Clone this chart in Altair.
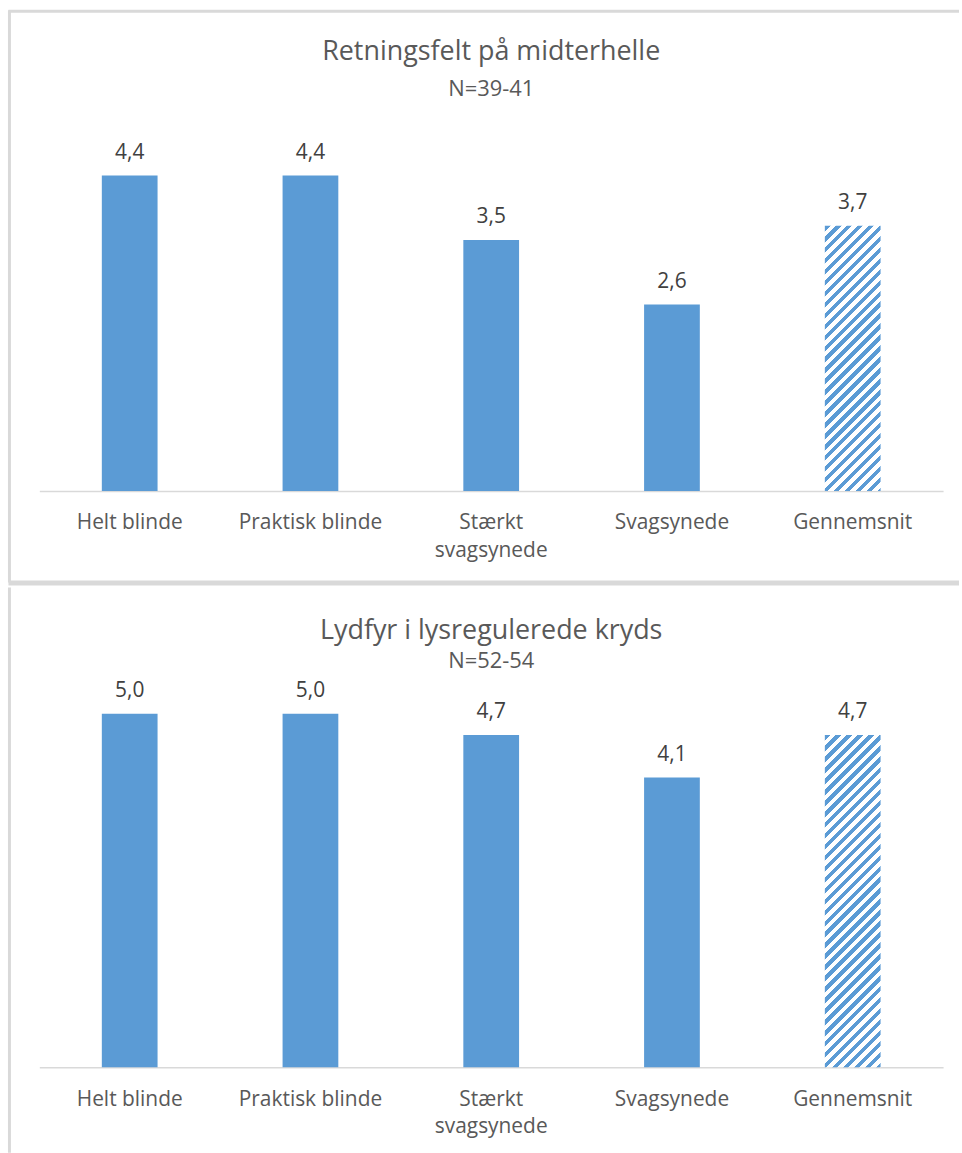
import altair as alt
import pandas as pd

# --- data -------------------------------------------------------------------
categories = ["Helt blinde", "Praktisk blinde", "Stærkt svagsynede", "Svagsynede", "Gennemsnit"]
retning_values = [4.4, 4.4, 3.5, 2.6, 3.7]
lydfyr_values = [5.0, 5.0, 4.7, 4.1, 4.7]
titles = ["Retningsfelt på midterhelle", "Lydfyr i lysregulerede kryds"]
subtitles = ["N=39-41", "N=52-54"]
average_label = "Gennemsnit"

# --- style ------------------------------------------------------------------
BLUE = "#5B9BD5"
FRAME = "#D9D9D9"
TEXT = "#595959"
FONT = "Open Sans"
PLOT_W = 908
BAR_W = 56
PAD_INNER = 1 - BAR_W / (PLOT_W / len(categories))
Y_MAX = 5


def hatch(bar_w, bar_h, period=11.0):
    """Diagonal '/' stripes as a linear gradient in bounding-box units."""
    total = bar_w + bar_h
    s = total / (bar_w ** 2 + bar_h ** 2)
    step = period / total
    stops = []
    t = 0.0
    while t < 1:
        mid = min(t + step / 2, 1)
        end = min(t + step, 1)
        stops += [
            {"offset": t, "color": BLUE},
            {"offset": mid, "color": BLUE},
            {"offset": mid, "color": "white"},
            {"offset": end, "color": "white"},
        ]
        t += step
    return {"gradient": "linear", "x1": 0, "y1": 0,
            "x2": bar_w * s, "y2": bar_h * s, "stops": stops}


def single():
    return alt.Chart(alt.Data(values=[{}]))


def frame_rule(width, **enc):
    return single().mark_rule(color=FRAME, strokeWidth=width).encode(**enc)


def heading(text, y, size):
    return single().mark_text(
        font=FONT, fontSize=size, color=TEXT, baseline="middle", align="center"
    ).encode(x=alt.value(PLOT_W / 2), y=alt.value(y), text=alt.value(text))


def panel(values, title, subtitle, plot_h, title_y, sub_y, frame_layers):
    df = pd.DataFrame({"kategori": categories, "værdi": values})
    x = alt.X(
        "kategori:N",
        sort=categories,
        scale=alt.Scale(paddingInner=PAD_INNER, paddingOuter=PAD_INNER / 2),
        axis=alt.Axis(
            title=None, labelAngle=0, ticks=False,
            domainColor=FRAME, domainWidth=1.5,
            labelFont=FONT, labelFontSize=21, labelColor=TEXT,
            labelPadding=21, labelLineHeight=28,
            labelExpr="datum.label == 'Stærkt svagsynede' ? ['Stærkt', 'svagsynede'] : datum.label",
        ),
    )
    y = alt.Y("værdi:Q", scale=alt.Scale(domain=[0, Y_MAX]), axis=None)
    base = alt.Chart(df).encode(x=x, y=y)

    solid = base.transform_filter(alt.datum.kategori != average_label).mark_bar(color=BLUE)
    avg_value = values[categories.index(average_label)]
    hatched = base.transform_filter(alt.datum.kategori == average_label).mark_bar(
        fill=hatch(BAR_W, avg_value / Y_MAX * plot_h), strokeWidth=0
    )
    labels = base.transform_calculate(
        lbl="replace(format(datum['værdi'], '.1f'), '.', ',')"
    ).mark_text(
        baseline="middle", dy=-23, font=FONT, fontSize=21, color="#404040"
    ).encode(text="lbl:N")

    layers = [solid, hatched, labels, heading(title, title_y, 27), heading(subtitle, sub_y, 22)]
    layers += frame_layers
    return alt.layer(*layers).properties(width=PLOT_W, height=plot_h)


# panel borders: left edge, top edge and the band between the two panels
top_frame = [
    frame_rule(3, x=alt.value(-30), y=alt.value(-123), y2=alt.value(452)),
    frame_rule(3, x=alt.value(-31), x2=alt.value(924), y=alt.value(-122)),
    frame_rule(5, x=alt.value(-31), x2=alt.value(924), y=alt.value(452.5)),
]
bottom_frame = [
    frame_rule(3, x=alt.value(-30), y=alt.value(-127), y2=alt.value(441)),
]

top = panel(retning_values, titles[0], subtitles[0], 360, -81, -44, top_frame)
bottom = panel(lydfyr_values, titles[1], subtitles[1], 355, -83, -53, bottom_frame)

chart = alt.vconcat(top, bottom, spacing=0).properties(
    padding={"left": 5.5, "top": 5.5, "right": 0, "bottom": 0},
    background="white",
).configure_view(stroke=None)

chart.save("out.html", embed_options={"renderer": "svg", "actions": False})
